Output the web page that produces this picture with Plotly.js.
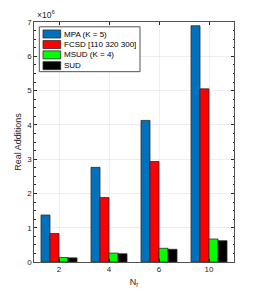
<!DOCTYPE html>
<html>
<head>
<meta charset="utf-8">
<script src="https://cdn.plot.ly/plotly-3.0.1.min.js"></script>
<style>html,body{margin:0;padding:0;background:#fff;}#chart{width:259px;height:295px;}</style>
</head>
<body>
<div id="chart"></div>
<script>
// Values in units of 10^6 real additions
const categories = ['2', '4', '6', '10'];
const seriesNames = ['MPA (K = 5)', 'FCSD [110 320 300]', 'MSUD (K = 4)', 'SUD'];
const mpa  = [1.37, 2.76, 4.13, 6.89];
const fcsd = [0.83, 1.88, 2.93, 5.05];
const msud = [0.13, 0.26, 0.40, 0.67];
const sud  = [0.12, 0.24, 0.37, 0.62];
const colors = ['#0072BD', '#FF0000', '#00FF00', '#000000'];

const seriesValues = [mpa, fcsd, msud, sud];
const traces = seriesValues.map((vals, i) => ({
  type: 'bar',
  name: seriesNames[i],
  x: categories,
  y: vals,
  showlegend: false,
  marker: {color: colors[i], line: {color: '#2b2b2b', width: 0.8}}
}));

const axisColor = '#262626';
const fam = 'Liberation Sans, Arial, sans-serif';
const font = {family: fam, size: 8, color: axisColor};

// MATLAB-style legend box (layout decoration built from the series names/colours)
const legBox = {x0: 0.0265, x1: 0.53, y0: 0.793, y1: 0.980};
const swX0 = 0.045, swX1 = 0.1335, swH = 0.0333;
const rowCenters = [0.950, 0.906, 0.863, 0.818];
const shapes = [{
  type: 'rect', xref: 'paper', yref: 'paper',
  x0: legBox.x0, x1: legBox.x1, y0: legBox.y0, y1: legBox.y1,
  fillcolor: '#ffffff', line: {color: axisColor, width: 0.8}, layer: 'above'
}];
const annotations = [{
  text: '\u00d710<sup>6</sup>', xref: 'paper', yref: 'paper', x: 0.005, y: 1.0,
  xanchor: 'left', yanchor: 'bottom', showarrow: false,
  font: {family: fam, size: 8.5, color: axisColor}
}];
seriesNames.forEach((name, i) => {
  shapes.push({
    type: 'rect', xref: 'paper', yref: 'paper',
    x0: swX0, x1: swX1, y0: rowCenters[i] - swH / 2, y1: rowCenters[i] + swH / 2,
    fillcolor: colors[i], line: {color: '#2b2b2b', width: 0.8}, layer: 'above'
  });
  annotations.push({
    text: name, xref: 'paper', yref: 'paper', x: 0.138, y: rowCenters[i],
    xanchor: 'left', yanchor: 'middle', showarrow: false,
    font: {family: fam, size: 8, color: '#000'}
  });
});

const layout = {
  width: 259, height: 295,
  margin: {l: 34, r: 25, t: 22, b: 33, pad: 0},
  paper_bgcolor: '#fff', plot_bgcolor: '#fff',
  font: font,
  barmode: 'group',
  bargap: 0.28,
  bargroupgap: 0,
  showlegend: false,
  xaxis: {
    type: 'category', range: [-0.5, 3.5],
    showline: true, linecolor: axisColor, linewidth: 0.8, mirror: 'ticks',
    ticks: 'inside', ticklen: 3, tickcolor: axisColor,
    showgrid: true, gridcolor: '#e3e3e3', gridwidth: 0.6,
    tickfont: font, zeroline: false,
    title: {text: 'N<sub>r</sub>', font: {family: fam, size: 9, color: axisColor}, standoff: 5}
  },
  yaxis: {
    range: [0, 7], dtick: 1, tick0: 0,
    showline: true, linecolor: axisColor, linewidth: 0.8, mirror: 'ticks',
    ticks: 'inside', ticklen: 3, tickcolor: axisColor,
    minor: {dtick: 0.25, ticks: 'inside', ticklen: 1.5, tickcolor: axisColor, showgrid: false},
    showgrid: true, gridcolor: '#e3e3e3', gridwidth: 0.6,
    tickfont: font, zeroline: false,
    title: {text: 'Real Additions', font: {family: fam, size: 9, color: axisColor}, standoff: 3}
  },
  shapes: shapes,
  annotations: annotations
};

Plotly.newPlot('chart', traces, layout, {displayModeBar: false, staticPlot: true});
</script>
</body>
</html>
